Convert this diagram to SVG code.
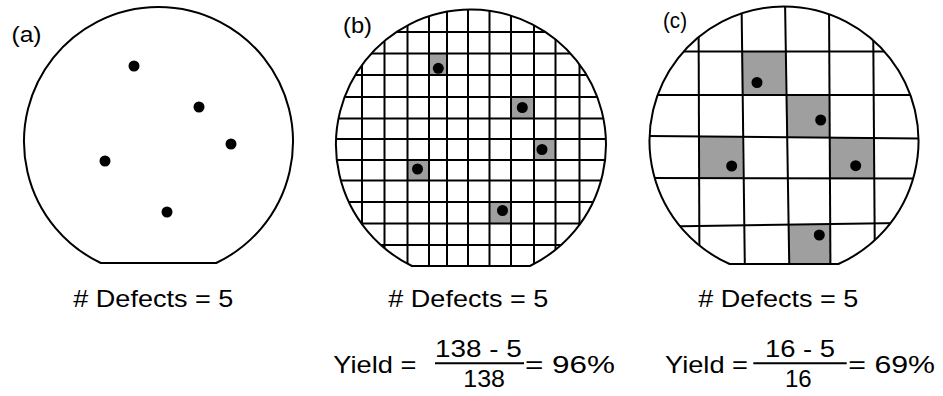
<svg xmlns="http://www.w3.org/2000/svg" width="943" height="396" viewBox="0 0 943 396">
<style>
.wafer{fill:none;stroke:#000;stroke-width:2}
.grid line{stroke:#000;stroke-width:2}
.die{fill:#9f9f9f}
.dot{fill:#000}
text{font-family:"Liberation Sans",Arial,sans-serif;fill:#000}
.lab{font-size:22px}
.t{font-size:24px}
.frac{stroke:#000;stroke-width:2}
</style>
<defs>
<clipPath id="clipB"><path d="M412 266 A135 135 0 1 1 529.9 266 Z"/></clipPath>
<clipPath id="clipC"><path d="M729.6 264 A134.5 134.5 0 1 1 838.4 264 Z"/></clipPath>
</defs>
<rect width="943" height="396" fill="#fff"/>

<g id="wafer-a">
<path class="wafer" d="M100.8 263 A134.5 134.5 0 1 1 216.2 263 Z"/>
<circle class="dot" cx="134" cy="66" r="5.5"/>
<circle class="dot" cx="199" cy="107" r="5.5"/>
<circle class="dot" cx="231" cy="144" r="5.5"/>
<circle class="dot" cx="105" cy="161" r="5.5"/>
<circle class="dot" cx="167" cy="212" r="5.5"/>
<text class="lab" x="11.5" y="42" textLength="30" lengthAdjust="spacingAndGlyphs">(a)</text>
</g>

<g id="wafer-b">
<g clip-path="url(#clipB)">
<rect class="die" x="429" y="53.5" width="18" height="21.5"/>
<rect class="die" x="511" y="97" width="23" height="21.5"/>
<rect class="die" x="534" y="139" width="21.5" height="21"/>
<rect class="die" x="407.5" y="160" width="21.5" height="20.5"/>
<rect class="die" x="489.5" y="202" width="21.5" height="21.5"/>
<g class="grid">
<line x1="362" y1="0" x2="362" y2="280"/>
<line x1="384.5" y1="0" x2="384.5" y2="280"/>
<line x1="407.5" y1="0" x2="407.5" y2="280"/>
<line x1="429" y1="0" x2="429" y2="280"/>
<line x1="447" y1="0" x2="447" y2="280"/>
<line x1="468" y1="0" x2="468" y2="280"/>
<line x1="489.5" y1="0" x2="489.5" y2="280"/>
<line x1="511" y1="0" x2="511" y2="280"/>
<line x1="534" y1="0" x2="534" y2="280"/>
<line x1="555.5" y1="0" x2="555.5" y2="280"/>
<line x1="579.5" y1="0" x2="579.5" y2="280"/>
<line x1="330" y1="32" x2="610" y2="32"/>
<line x1="330" y1="53.5" x2="610" y2="53.5"/>
<line x1="330" y1="75" x2="610" y2="75"/>
<line x1="330" y1="97" x2="610" y2="97"/>
<line x1="330" y1="118.5" x2="610" y2="118.5"/>
<line x1="330" y1="139" x2="610" y2="139"/>
<line x1="330" y1="160" x2="610" y2="160"/>
<line x1="330" y1="180.5" x2="610" y2="180.5"/>
<line x1="330" y1="202" x2="610" y2="202"/>
<line x1="330" y1="223.5" x2="610" y2="223.5"/>
<line x1="330" y1="245" x2="610" y2="245"/>
</g>
</g>
<path class="wafer" d="M412 266 A135 135 0 1 1 529.9 266 Z"/>
<circle class="dot" cx="438.3" cy="68.3" r="5.5"/>
<circle class="dot" cx="522.3" cy="107.5" r="5.5"/>
<circle class="dot" cx="542" cy="149.5" r="5.5"/>
<circle class="dot" cx="417.5" cy="169" r="5.5"/>
<circle class="dot" cx="502.5" cy="210.5" r="5.5"/>
<text class="lab" x="343" y="33" textLength="29" lengthAdjust="spacingAndGlyphs">(b)</text>
</g>

<g id="wafer-c">
<g clip-path="url(#clipC)">
<polygon class="die" points="741.6,51.5 785.4,51.5 785.8,95 742,95"/>
<polygon class="die" points="785.8,95 829.3,95 829.5,137.2 786.2,137"/>
<polygon class="die" points="699,136.6 742.3,136.8 742.8,178.2 699.2,178"/>
<polygon class="die" points="829.5,137.2 873.8,137.6 874.2,178.5 829.8,178.4"/>
<polygon class="die" points="788.5,225 830.3,224.3 830.6,270 789.2,270"/>
<g class="grid">
<line x1="698.5" y1="0" x2="699.5" y2="280"/>
<line x1="741.5" y1="0" x2="745" y2="280"/>
<line x1="785" y1="0" x2="789.5" y2="280"/>
<line x1="829" y1="0" x2="830.5" y2="280"/>
<line x1="873" y1="0" x2="875" y2="280"/>
<line x1="640" y1="51.5" x2="930" y2="51.5"/>
<line x1="640" y1="95" x2="930" y2="95"/>
<line x1="640" y1="136" x2="930" y2="138.5"/>
<line x1="640" y1="178" x2="930" y2="178.5"/>
<line x1="640" y1="227" x2="930" y2="222.5"/>
</g>
</g>
<path class="wafer" d="M729.6 264 A134.5 134.5 0 1 1 838.4 264 Z"/>
<circle class="dot" cx="757" cy="82.5" r="5.5"/>
<circle class="dot" cx="820.7" cy="120" r="5.5"/>
<circle class="dot" cx="731.7" cy="166" r="5.5"/>
<circle class="dot" cx="855.7" cy="165.7" r="5.5"/>
<circle class="dot" cx="819.3" cy="235" r="5.5"/>
<text class="lab" x="663" y="28" textLength="24" lengthAdjust="spacingAndGlyphs">(c)</text>
</g>

<g id="labels">
<text class="t" x="73.3" y="306.5" textLength="160" lengthAdjust="spacingAndGlyphs"># Defects = 5</text>
<text class="t" x="388.3" y="306.5" textLength="160" lengthAdjust="spacingAndGlyphs"># Defects = 5</text>
<text class="t" x="698.3" y="306.5" textLength="160" lengthAdjust="spacingAndGlyphs"># Defects = 5</text>

<text class="t" x="333.3" y="372.5" textLength="83" lengthAdjust="spacingAndGlyphs">Yield =</text>
<text class="t" x="435" y="356.5" textLength="86.7" lengthAdjust="spacingAndGlyphs">138 - 5</text>
<line class="frac" x1="435" y1="363.3" x2="524" y2="363.3"/>
<text class="t" x="463.3" y="386.5" textLength="41.7" lengthAdjust="spacingAndGlyphs">138</text>
<text class="t" x="525" y="372.5" textLength="90" lengthAdjust="spacingAndGlyphs">= 96%</text>

<text class="t" x="665" y="372.5" textLength="83" lengthAdjust="spacingAndGlyphs">Yield =</text>
<text class="t" x="765" y="356.5" textLength="70" lengthAdjust="spacingAndGlyphs">16 - 5</text>
<line class="frac" x1="753.3" y1="363.3" x2="846.7" y2="363.3"/>
<text class="t" x="785" y="386.5" textLength="26.7" lengthAdjust="spacingAndGlyphs">16</text>
<text class="t" x="848.3" y="372.5" textLength="86.7" lengthAdjust="spacingAndGlyphs">= 69%</text>
</g>
</svg>
